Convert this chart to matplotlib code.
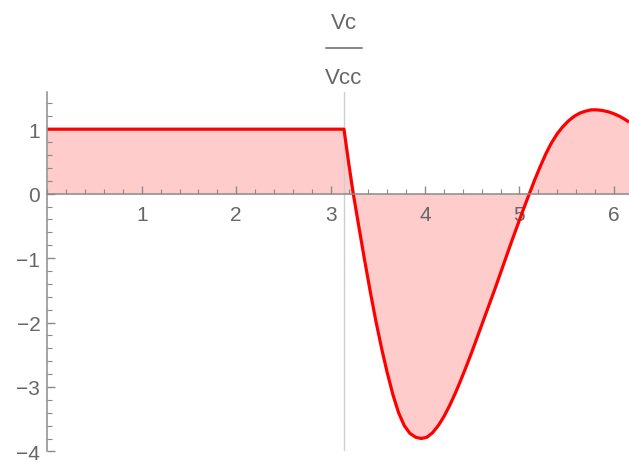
import matplotlib
matplotlib.use("Agg")
import matplotlib.pyplot as plt
import matplotlib.transforms as mtransforms
from matplotlib.ticker import MultipleLocator
import numpy as np

# Normalised capacitor voltage Vc/Vcc against phase (rad)
phase = [0.0, 3.1416, 3.19, 3.24, 3.30, 3.36, 3.42, 3.48, 3.54, 3.60, 3.66,
         3.72, 3.78, 3.84, 3.90, 3.96, 4.02, 4.08, 4.14, 4.20, 4.26, 4.32,
         4.38, 4.44, 4.50, 4.56, 4.62, 4.68, 4.74, 4.80, 4.86, 4.92, 4.98,
         5.04, 5.10, 5.16, 5.22, 5.28, 5.34, 5.40, 5.46, 5.52, 5.58, 5.64,
         5.70, 5.76, 5.82, 5.88, 5.94, 6.00, 6.06, 6.12, 6.16]
vc_ratio = [1.00, 1.00, 0.49, 0.00, -0.52, -1.03, -1.52, -1.98, -2.40, -2.78,
            -3.12, -3.40, -3.60, -3.72, -3.78, -3.80, -3.78, -3.71, -3.60,
            -3.46, -3.29, -3.10, -2.89, -2.67, -2.44, -2.20, -1.96, -1.72,
            -1.48, -1.23, -0.98, -0.73, -0.49, -0.25, -0.02, 0.21, 0.42, 0.62,
            0.79, 0.93, 1.04, 1.13, 1.20, 1.25, 1.28, 1.30, 1.30, 1.29, 1.27,
            1.24, 1.20, 1.15, 1.11]
switch_phase = np.pi
x_ticks = [1, 2, 3, 4, 5, 6]
y_ticks = [-4, -3, -2, -1, 0, 1]

axis_grey = "#8a8a8a"
text_grey = "#666666"
plt.rcParams["font.family"] = ["Liberation Sans", "DejaVu Sans"]

fig = plt.figure(figsize=(6.29, 4.64), dpi=100)
ax = fig.add_axes([0.0752, 0.025, 0.9248, 0.775])
ax.set_xlim(0, 6.16)
ax.set_ylim(-4, 1.58)

ax.fill_between(phase, vc_ratio, 0, color="#ffcccc", lw=0, zorder=1)
ax.plot(phase, vc_ratio, color="#ff0000", lw=2.3, zorder=3,
        solid_joinstyle="round", solid_capstyle="butt")
ax.axvline(switch_phase, color="#cfcfcf", lw=1.0, zorder=2)

for side in ("top", "right"):
    ax.spines[side].set_visible(False)
ax.spines["bottom"].set_position(("data", 0))
for side in ("left", "bottom"):
    ax.spines[side].set_color(axis_grey)
    ax.spines[side].set_linewidth(1.1)
    ax.spines[side].set_zorder(4)

ax.set_xticks(x_ticks)
ax.set_xticklabels([str(v) for v in x_ticks])
ax.set_yticks(y_ticks)
ax.set_yticklabels([str(v).replace("-", "\u2212") for v in y_ticks])
ax.xaxis.set_minor_locator(MultipleLocator(0.2))
ax.yaxis.set_minor_locator(MultipleLocator(0.2))

ax.tick_params(axis="both", which="both", direction="in", color=axis_grey,
               labelcolor=text_grey, labelsize=15)
ax.tick_params(axis="both", which="major", length=6, width=1.0)
ax.tick_params(axis="both", which="minor", length=3.5, width=0.8)
ax.tick_params(axis="x", which="major", pad=8)
ax.tick_params(axis="y", which="major", pad=5)

# Axis label drawn as a stacked fraction above the switching line
trans = mtransforms.blended_transform_factory(ax.transData, fig.transFigure)
ax.text(switch_phase, 0.950, "Vc", transform=trans, ha="center", va="center",
        fontsize=16, color=text_grey, clip_on=False)
ax.plot([switch_phase - 0.19, switch_phase + 0.19], [0.894, 0.894],
        transform=trans, color=text_grey, lw=1.1, clip_on=False)
ax.text(switch_phase, 0.830, "Vcc", transform=trans, ha="center", va="center",
        fontsize=16, color=text_grey, clip_on=False)

fig.savefig("out.png", dpi=100)
